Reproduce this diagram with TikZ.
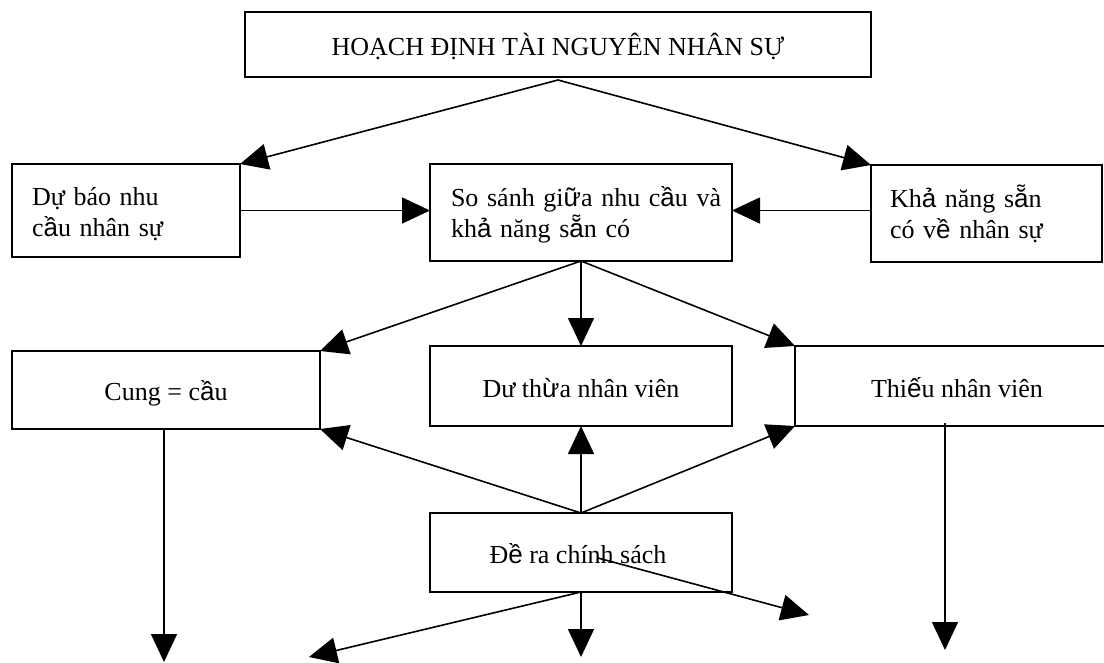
\documentclass[tikz,border=0pt]{standalone}
\usepackage{fontspec}
\setmainfont{Liberation Serif}
\newfontfamily\vsansfont{Liberation Sans}
\newcommand\vsg[1]{{\vsansfont #1}}
\usetikzlibrary{arrows.meta,calc}

\begin{document}
\begin{tikzpicture}[x=1pt,y=-1pt,
  box/.style={draw, line width=1.6pt, inner sep=0pt, outer sep=0pt, anchor=north west},
  lbl/.style={inner sep=0pt, outer sep=0pt, font=\fontsize{26}{31}\selectfont},
  mlbl/.style={lbl, align=left, anchor=base west},
  arr/.style={line width=1.6pt, -{Triangle[length=28pt,width=26pt]}}]
\useasboundingbox (0,0) rectangle (1104,662);
\clip (0,0) rectangle (1104,662);

% boxes
\node[box, minimum width=626pt, minimum height=65pt] (top) at (245,12) {};
\node[box, minimum width=228pt, minimum height=93pt] (duBao) at (12,164) {};
\node[box, minimum width=302pt, minimum height=97pt] (soSanh) at (430,164) {};
\node[box, minimum width=231pt, minimum height=97pt] (khaNang) at (871,165) {};
\node[box, minimum width=308pt, minimum height=78pt] (cung) at (12,351) {};
\node[box, minimum width=302pt, minimum height=80pt] (duThua) at (430,346) {};
\node[box, minimum width=330pt, minimum height=80pt] (thieu) at (795,346) {};
\node[box, minimum width=302pt, minimum height=79pt] (deRa) at (430,513) {};

% labels
\node[lbl, anchor=base] (topT) at (558,55) {HOẠCH ĐỊNH TÀI NGUYÊN NHÂN SỰ};
\node[mlbl, text width=200pt] (duBaoT) at (32,205) {Dự báo nhu\\c\vsg{ầ}u nhân sự};
\node[mlbl, text width=280pt] (soSanhT) at (451,206) {So sánh gi\vsg{ữ}a nhu c\vsg{ầ}u và\\kh\vsg{ả} năng s\vsg{ẵ}n có};
\node[mlbl, text width=205pt] (khaNangT) at (890,207) {Kh\vsg{ả} năng s\vsg{ẵ}n\\có v\vsg{ề} nhân sự};
\node[lbl, anchor=base] (cungT) at (166,400) {Cung = c\vsg{ầ}u};
\node[lbl, anchor=base] (duThuaT) at (581,397) {Dư th\vsg{ừ}a nhân viên};
\node[lbl, anchor=base] (thieuT) at (957,397) {Thi\vsg{ế}u nhân viên};
\node[lbl, anchor=base] (deRaT) at (578,563) {Đ\vsg{ề} ra chính sách};

% free ends
\coordinate (apex) at ($(top.south)+(0,3)$);
\coordinate (cungEnd) at (164,662);
\coordinate (thieuFrom) at (945,423);
\coordinate (thieuEnd) at (945,650);
\coordinate (outL) at (309,657);
\coordinate (outM) at (581,657);
\coordinate (outRfrom) at (598,558);
\coordinate (outR) at (809,615);

% connectors
\draw[arr] (apex) -- (duBao.north east);
\draw[arr] (apex) -- (khaNang.north west);
\draw[arr] (duBao.east) -- (duBao.east -| soSanh.west);
\draw[arr] (duBao.east -| khaNang.west) -- (duBao.east -| soSanh.east);
\draw[arr] (soSanh.south) -- (cung.north east);
\draw[arr] (soSanh.south) -- (duThua.north);
\draw[arr] (soSanh.south) -- (thieu.north west);
\draw[arr] (deRa.north) -- (cung.south east);
\draw[arr] (deRa.north) -- (duThua.south);
\draw[arr] (deRa.north) -- (thieu.south west);
\draw[arr] (cung.south -| cungEnd) -- (cungEnd);
\draw[arr] (thieuFrom) -- (thieuEnd);
\draw[arr] (deRa.south) -- (outL);
\draw[arr] (deRa.south) -- (outM);
\draw[arr] (outRfrom) -- (outR);
\end{tikzpicture}
\end{document}
